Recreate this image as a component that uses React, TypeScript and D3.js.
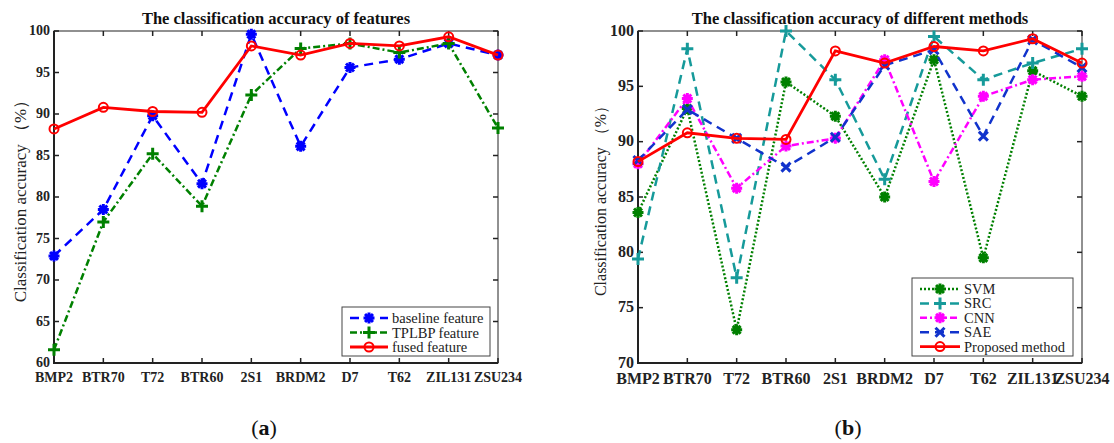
import { useRef, useEffect } from 'react';
import * as d3 from 'd3';

const categories = ["BMP2", "BTR70", "T72", "BTR60", "2S1", "BRDM2", "D7", "T62", "ZIL131", "ZSU234"];

// panel (a)
const baselineFeature = [72.9, 78.5, 89.8, 81.6, 99.6, 86.1, 95.6, 96.6, 98.5, 97.1];
const tplbpFeature = [61.6, 77.0, 85.2, 78.9, 92.3, 97.9, 98.5, 97.4, 98.5, 88.3];
const fusedFeature = [88.2, 90.8, 90.3, 90.2, 98.2, 97.1, 98.5, 98.2, 99.3, 97.1];
const ticksA = [60, 65, 70, 75, 80, 85, 90, 95, 100];

// panel (b)
const svm = [83.6, 93.0, 73.0, 95.4, 92.3, 85.0, 97.4, 79.5, 96.4, 94.1];
const src = [79.4, 98.4, 77.7, 100.0, 95.6, 86.6, 99.5, 95.6, 97.1, 98.4];
const cnn = [88.0, 93.9, 85.8, 89.6, 90.3, 97.4, 86.4, 94.1, 95.6, 95.9];
const sae = [88.3, 92.9, 90.3, 87.7, 90.4, 96.9, 98.3, 90.5, 99.2, 96.7];
const proposed = [88.2, 90.8, 90.3, 90.2, 98.2, 97.1, 98.6, 98.2, 99.3, 97.1];
const ticksB = [70, 75, 80, 85, 90, 95, 100];

const FONT = '"Liberation Serif", "DejaVu Serif", serif';

// marker drawing
function drawMarker(g, kind, x, y, color) {
  if (kind === 'circle') {
    g.append('circle').attr('cx', x).attr('cy', y).attr('r', 4.5)
      .attr('fill', 'none').attr('stroke', color).attr('stroke-width', 2);
  } else if (kind === 'plus') {
    const s = 6;
    g.append('path').attr('d', `M${x - s},${y}H${x + s}M${x},${y - s}V${y + s}`)
      .attr('stroke', color).attr('stroke-width', 3).attr('fill', 'none');
  } else if (kind === 'x') {
    const s = 4.5;
    g.append('path').attr('d', `M${x - s},${y - s}L${x + s},${y + s}M${x - s},${y + s}L${x + s},${y - s}`)
      .attr('stroke', color).attr('stroke-width', 3).attr('fill', 'none');
  } else {
    // asterisk
    const s = 5.5, d = s * 0.72;
    g.append('path')
      .attr('d', `M${x - s},${y}H${x + s}M${x},${y - s}V${y + s}M${x - d},${y - d}L${x + d},${y + d}M${x - d},${y + d}L${x + d},${y - d}`)
      .attr('stroke', color).attr('stroke-width', 3).attr('fill', 'none');
  }
}

function drawPanel(svg, cfg) {
  const { left, right, top, bottom } = cfg;
  const x = d3.scalePoint().domain(categories).range([left, right]);
  const y = d3.scaleLinear().domain(cfg.yDomain).range([bottom, top]);
  const g = svg.append('g');

  // axes box
  g.append('rect').attr('x', left).attr('y', top).attr('width', right - left).attr('height', bottom - top)
    .attr('fill', 'none').attr('stroke', '#222').attr('stroke-width', 1);
  g.append('path').attr('d', `M${left},${top}V${bottom}H${right}`)
    .attr('fill', 'none').attr('stroke', '#222').attr('stroke-width', 2);

  const tl = 5;
  categories.forEach(c => {
    const cx = x(c);
    g.append('line').attr('x1', cx).attr('x2', cx).attr('y1', bottom).attr('y2', bottom - tl).attr('stroke', '#222').attr('stroke-width', 1.5);
    g.append('line').attr('x1', cx).attr('x2', cx).attr('y1', top).attr('y2', top + tl).attr('stroke', '#222').attr('stroke-width', 1.5);
    g.append('text').attr('x', cx).attr('y', bottom + cfg.xLabelOffset).attr('text-anchor', 'middle')
      .attr('font-family', FONT).attr('font-weight', 'bold').attr('font-size', cfg.tickFont)
      .attr('fill', '#222').text(c);
  });
  cfg.yTicks.forEach(t => {
    const ty = y(t);
    g.append('line').attr('x1', left).attr('x2', left + tl).attr('y1', ty).attr('y2', ty).attr('stroke', '#222').attr('stroke-width', 1.5);
    g.append('line').attr('x1', right).attr('x2', right - tl).attr('y1', ty).attr('y2', ty).attr('stroke', '#222').attr('stroke-width', 1.5);
    g.append('text').attr('x', left - 4).attr('y', ty).attr('dy', '0.3em').attr('text-anchor', 'end')
      .attr('font-family', FONT).attr('font-weight', 'bold').attr('font-size', cfg.tickFont)
      .attr('fill', '#222').text(t);
  });

  // title + y label
  g.append('text').attr('x', (left + right) / 2).attr('y', top - 7).attr('text-anchor', 'middle')
    .attr('font-family', FONT).attr('font-weight', 'bold').attr('font-size', 16.5).attr('fill', '#111')
    .text(cfg.title);
  g.append('text').attr('transform', `translate(${cfg.ylabelX},${(top + bottom) / 2}) rotate(-90)`)
    .attr('text-anchor', 'middle').attr('font-family', FONT).attr('font-size', cfg.labelFont)
    .attr('fill', '#222').text('Classification accuracy （%）');

  // series
  const line = d3.line().x((d, i) => x(categories[i])).y(d => y(d));
  cfg.series.forEach(s => {
    g.append('path').datum(s.values).attr('d', line).attr('fill', 'none')
      .attr('stroke', s.color).attr('stroke-width', s.width || 2.5)
      .attr('stroke-dasharray', s.dash || null);
    const mg = g.append('g');
    s.values.forEach((v, i) => drawMarker(mg, s.marker, x(categories[i]), y(v), s.color));
  });

  // legend
  const L = cfg.legend;
  g.append('rect').attr('x', L.x).attr('y', L.y).attr('width', L.w).attr('height', L.h)
    .attr('fill', 'white').attr('stroke', '#444').attr('stroke-width', 1);
  cfg.series.forEach((s, i) => {
    const ly = L.y + 11 + i * L.step;
    g.append('line').attr('x1', L.x + 8).attr('x2', L.x + 8 + L.len).attr('y1', ly).attr('y2', ly)
      .attr('stroke', s.color).attr('stroke-width', s.width || 2.5).attr('stroke-dasharray', s.dash || null);
    drawMarker(g, s.marker, L.x + 8 + L.len / 2, ly, s.color);
    g.append('text').attr('x', L.x + 12 + L.len).attr('y', ly).attr('dy', '0.35em')
      .attr('font-family', FONT).attr('font-size', 14.5).attr('fill', '#222').text(s.name);
  });

  // caption
  const cap = g.append('text').attr('x', (left + right) / 2 - 12).attr('y', 435).attr('text-anchor', 'middle')
    .attr('font-family', FONT).attr('font-size', 22).attr('fill', '#111');
  cap.append('tspan').text('(');
  cap.append('tspan').attr('font-weight', 'bold').text(cfg.caption);
  cap.append('tspan').text(')');
}

export default function App() {
  const svgRef = useRef(null);

  useEffect(() => {
    const svg = d3.select(svgRef.current);
    svg.selectAll('*').remove();

    drawPanel(svg, {
      left: 54, right: 498, top: 31, bottom: 363,
      yDomain: [60, 100], yTicks: ticksA, tickFont: 14, labelFont: 17, ylabelX: 26, xLabelOffset: 19,
      title: 'The classification accuracy of features', caption: 'a',
      legend: { x: 342, y: 307, w: 148, h: 49, step: 14.5, len: 38 },
      series: [
        { name: 'baseline feature', values: baselineFeature, color: '#0000ff', dash: '9,6', marker: 'asterisk' },
        { name: 'TPLBP feature', values: tplbpFeature, color: '#008000', dash: '7,3,2,3', marker: 'plus' },
        { name: 'fused feature', values: fusedFeature, color: '#ff0000', marker: 'circle', width: 2.8 }
      ]
    });

    drawPanel(svg, {
      left: 638, right: 1082, top: 31, bottom: 363,
      yDomain: [70, 100], yTicks: ticksB, tickFont: 16, labelFont: 16, ylabelX: 606, xLabelOffset: 21,
      title: 'The classification accuracy of different methods', caption: 'b',
      legend: { x: 912, y: 278, w: 161, h: 78, step: 14.4, len: 40 },
      series: [
        { name: 'SVM', values: svm, color: '#008000', dash: '2,2', marker: 'asterisk' },
        { name: 'SRC', values: src, color: '#169a9a', dash: '9,6', marker: 'plus' },
        { name: 'CNN', values: cnn, color: '#ff00ff', dash: '7,3,2,3', marker: 'asterisk' },
        { name: 'SAE', values: sae, color: '#1133cc', dash: '9,6', marker: 'x' },
        { name: 'Proposed method', values: proposed, color: '#ff0000', marker: 'circle', width: 2.8 }
      ]
    });
  }, []);

  return (
    <svg ref={svgRef} width={1114} height={443}
      style={{ position: 'absolute', left: 0, top: 0, background: 'white' }} />
  );
}
